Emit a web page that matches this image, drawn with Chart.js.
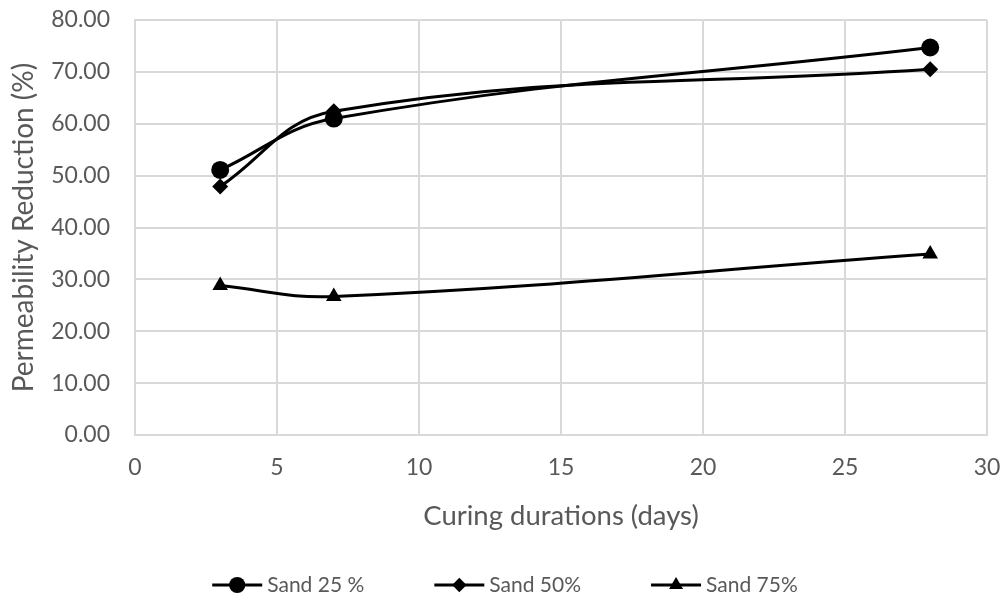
<!DOCTYPE html>
<html>
<head>
<meta charset="utf-8">
<script src="https://cdn.jsdelivr.net/npm/chart.js@4"></script>
<style>
  html, body { margin: 0; padding: 0; background: #fff; }
  #wrap { width: 1006px; height: 605px; }
</style>
</head>
<body>
<div id="wrap"><canvas id="chart"></canvas></div>
<script>
var days = [3, 7, 28];
var sand25 = [51.1, 61.0, 74.7];
var sand50 = [47.9, 62.4, 70.5];
var sand75 = [28.8, 26.7, 34.9];
var seriesNames = ['Sand 25 %', 'Sand 50%', 'Sand 75%'];
var markers = ['circle', 'rectRot', 'triangle'];
var markerSizes = [9, 8, 9];

var fontFamily = 'Lato, "Open Sans", sans-serif';
var textColor = '#595959';
var gridColor = '#d9d9d9';

function toPoints(ys) {
  return days.map(function (d, i) { return { x: d, y: ys[i] }; });
}

var datasets = [sand25, sand50, sand75].map(function (ys, i) {
  return {
    label: seriesNames[i],
    data: toPoints(ys),
    borderColor: '#000',
    backgroundColor: '#000',
    borderWidth: 3,
    tension: 0.4,
    pointStyle: markers[i],
    pointRadius: markerSizes[i],
    pointHoverRadius: markerSizes[i],
    pointBorderWidth: 0
  };
});

// legend row under the axis title: line + marker, then the series name
var lineLegend = {
  id: 'lineLegend',
  afterDraw: function (chart) {
    var ctx = chart.ctx;
    var iconW = 50, textGap = 5, itemGap = 70, y = 585;
    ctx.save();
    ctx.font = '21px ' + fontFamily;
    var items = chart.data.datasets.map(function (ds) {
      return { ds: ds, tw: ctx.measureText(ds.label).width };
    });
    var total = items.reduce(function (s, it) { return s + iconW + textGap + it.tw; }, 0) + itemGap * (items.length - 1);
    var x = (chart.width - total) / 2 + 2;
    items.forEach(function (it) {
      ctx.strokeStyle = '#000';
      ctx.fillStyle = '#000';
      ctx.lineWidth = 3;
      ctx.beginPath();
      ctx.moveTo(x, y);
      ctx.lineTo(x + iconW, y);
      ctx.stroke();
      Chart.helpers.drawPoint(ctx, { pointStyle: it.ds.pointStyle, radius: it.ds.pointRadius * 0.9, borderWidth: 0 }, x + iconW / 2, y);
      ctx.fillStyle = textColor;
      ctx.textBaseline = 'middle';
      ctx.textAlign = 'left';
      ctx.fillText(it.ds.label, x + iconW + textGap, y);
      x += iconW + textGap + it.tw + itemGap;
    });
    ctx.restore();
  }
};

new Chart(document.getElementById('chart'), {
  type: 'line',
  data: { datasets: datasets },
  plugins: [lineLegend],
  options: {
    responsive: true,
    maintainAspectRatio: false,
    animation: false,
    layout: { padding: { top: 20, right: 19, left: 0, bottom: 70 } },
    plugins: {
      tooltip: { enabled: false },
      legend: { display: false }
    },
    scales: {
      x: {
        type: 'linear',
        min: 0,
        max: 30,
        afterFit: function (scale) {
          scale.height = 100;
          scale.paddingLeft = 0;
          scale.paddingRight = 0;
        },
        ticks: {
          stepSize: 5,
          color: textColor,
          font: { family: fontFamily, size: 23 },
          padding: 19
        },
        grid: { color: gridColor, lineWidth: 2, drawTicks: false },
        border: { color: gridColor, width: 2 },
        title: {
          display: true,
          text: 'Curing durations (days)',
          color: textColor,
          font: { family: fontFamily, size: 27.5 },
          padding: { top: 0, bottom: 2 }
        }
      },
      y: {
        min: 0,
        max: 80,
        afterFit: function (scale) {
          scale.width = 135;
          scale.paddingTop = 0;
          scale.paddingBottom = 0;
        },
        ticks: {
          stepSize: 10,
          color: textColor,
          font: { family: fontFamily, size: 23 },
          padding: 25,
          callback: function (v) { return v.toFixed(2); }
        },
        grid: { color: gridColor, lineWidth: 2, drawTicks: false },
        border: { color: gridColor, width: 2 },
        title: {
          display: true,
          text: 'Permeability Reduction (%)',
          color: textColor,
          font: { family: fontFamily, size: 28 },
          padding: { top: 7, bottom: 0 }
        }
      }
    }
  }
});
</script>
</body>
</html>
